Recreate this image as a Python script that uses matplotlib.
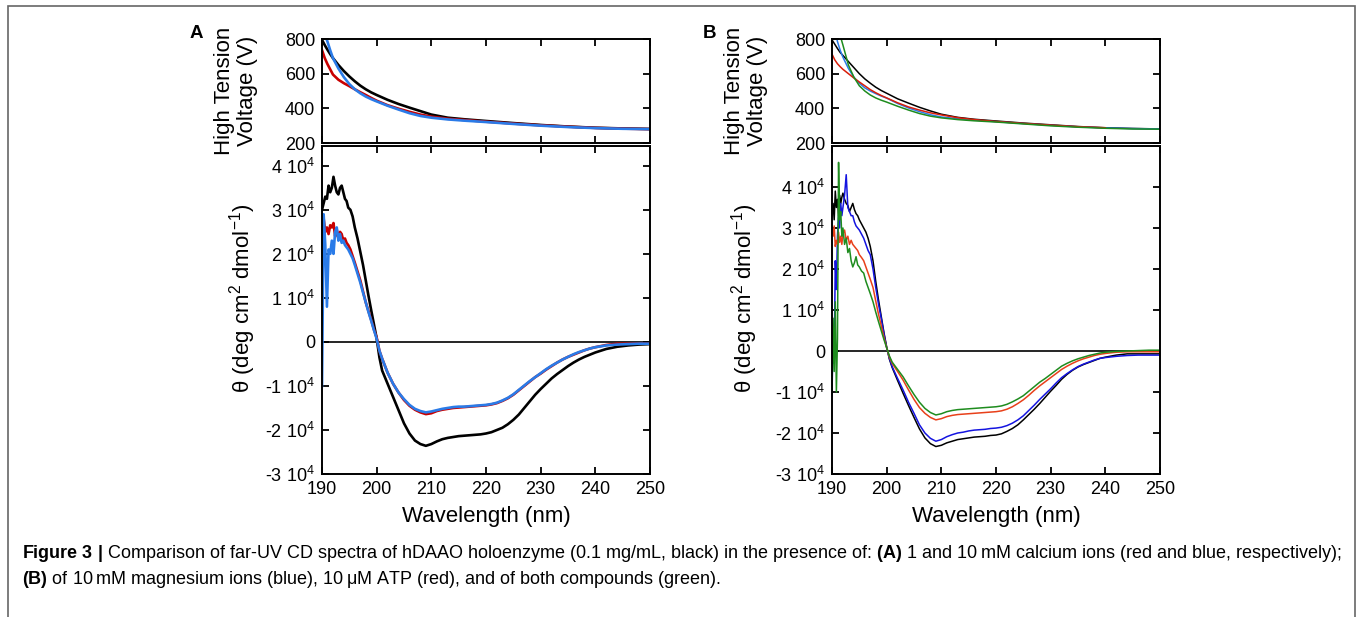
import numpy as np
import matplotlib
matplotlib.use("Agg")
import matplotlib.pyplot as plt
from matplotlib.patches import Rectangle

plt.rcParams['font.family'] = ['Liberation Sans', 'DejaVu Sans']
plt.rcParams['mathtext.fontset'] = 'custom'
plt.rcParams['mathtext.rm'] = 'Liberation Sans'
plt.rcParams['mathtext.it'] = 'Liberation Sans:italic'
plt.rcParams['mathtext.bf'] = 'Liberation Sans:bold'

# ---------------- data ----------------
# High tension voltage (V)
ht_wl = [190, 190.5, 191, 191.5, 192, 193, 194, 195, 196, 197, 198, 199, 200, 202, 204, 206,
         208, 210, 213, 216, 220, 225, 230, 235, 240, 245, 250]
htA_black = [795, 765, 738, 713, 690, 650, 615, 584, 556, 531, 510, 492, 477, 449, 425, 404,
             384, 364, 346, 337, 327, 315, 304, 295, 288, 284, 281]
htA_red = [736, 690, 655, 625, 595, 565, 545, 528, 510, 493, 477, 460, 444, 418, 398, 380,
           364, 352, 340, 333, 323, 312, 302, 294, 287, 283, 280]
htA_blue = [880, 830, 785, 735, 690, 630, 580, 540, 510, 487, 468, 453, 440, 415, 393, 372,
            356, 346, 336, 329, 321, 310, 300, 292, 286, 282, 280]
htB_black = [795, 770, 745, 722, 705, 670, 635, 600, 570, 545, 522, 503, 487, 455, 430, 406,
             385, 366, 348, 337, 327, 315, 305, 295, 288, 284, 281]
htB_red = [713, 680, 657, 640, 625, 600, 575, 552, 530, 508, 490, 474, 460, 432, 408, 390,
           374, 362, 346, 335, 324, 313, 303, 294, 288, np.nan, np.nan]
htB_blue = [940, 860, 785, 735, 695, 630, 580, 545, 518, 500, 485, 471, 459, 428, 402, 381,
            363, 350, 340, 332, 323, 312, 302, 293, 287, 283, 281]
htB_green = [1050, 960, 880, 820, 765, 650, 580, 530, 500, 477, 460, 447, 436, 412, 390, 370,
             355, 345, 335, 328, 321, 310, 299, 291, 285, 281, 280]

# CD ellipticity (units of 1e4 deg cm2 dmol-1)
tail_wl = [200.5, 201, 202, 203, 204, 205, 206, 207, 208, 209, 210, 211, 212, 213, 214, 215,
           216, 217, 218, 219, 220, 221, 222, 223, 224, 225, 226, 227, 228, 229, 230, 231,
           232, 233, 234, 235, 236, 237, 238, 239, 240, 242, 244, 246, 248, 250]
headA_wl = [190.0, 190.3, 190.6, 190.9, 191.2, 191.5, 191.8, 192.1, 192.4, 192.7, 193.0, 193.3,
            193.6, 193.9, 194.2, 194.5, 194.8, 195.2, 195.6, 196.0, 196.5, 197.0, 197.5, 198.0,
            198.5, 199.0, 199.5, 200.0]
headB_wl = [190.0, 190.2, 190.4, 190.6, 190.8, 191.0, 191.2, 191.4, 191.6, 191.8, 192.0, 192.3,
            192.6, 192.9, 193.2, 193.5, 193.8, 194.1, 194.4, 194.7, 195.0, 195.4, 195.8, 196.2,
            196.6, 197.0, 197.5, 198.0, 198.5, 199.0, 199.5, 200.0]

cdA_black = [3.0, 3.15, 3.3, 3.25, 3.55, 3.4, 3.5, 3.75, 3.55, 3.4, 3.35, 3.5, 3.55, 3.4, 3.25,
             3.2, 3.05, 3.0, 2.85, 2.6, 2.35, 2.05, 1.75, 1.4, 1.05, 0.72, 0.4, 0.08,
             -0.35, -0.65, -0.95, -1.25, -1.55, -1.85, -2.08, -2.24, -2.32, -2.36, -2.32, -2.26,
             -2.21, -2.18, -2.16, -2.14, -2.13, -2.12, -2.11, -2.1, -2.08, -2.05, -2.0, -1.95,
             -1.87, -1.77, -1.65, -1.5, -1.35, -1.2, -1.07, -0.95, -0.83, -0.73, -0.64, -0.55,
             -0.47, -0.4, -0.34, -0.29, -0.24, -0.16, -0.11, -0.08, -0.06, -0.05]
cdA_red = [2.5, 2.8, 2.5, 2.6, 2.45, 2.65, 2.6, 2.7, 2.4, 2.55, 2.35, 2.5, 2.45, 2.3, 2.35,
           2.25, 2.2, 2.1, 1.95, 1.8, 1.6, 1.4, 1.15, 0.9, 0.7, 0.5, 0.28, 0.1,
           -0.2, -0.38, -0.7, -0.95, -1.15, -1.32, -1.45, -1.54, -1.6, -1.64, -1.62, -1.57,
           -1.54, -1.52, -1.5, -1.49, -1.48, -1.47, -1.46, -1.45, -1.44, -1.42, -1.39, -1.34,
           -1.28, -1.2, -1.1, -1.0, -0.9, -0.8, -0.72, -0.63, -0.55, -0.47, -0.4, -0.34,
           -0.29, -0.24, -0.19, -0.15, -0.12, -0.07, -0.04, -0.04, -0.04, -0.04]
cdA_blue = [-1.0, 2.9, 2.2, 0.8, 2.1, 2.0, 2.3, 2.0, 2.5, 2.6, 2.3, 2.45, 2.25, 2.3, 2.2,
            2.15, 2.1, 2.0, 1.9, 1.75, 1.55, 1.35, 1.12, 0.9, 0.68, 0.48, 0.27, 0.07,
            -0.2, -0.38, -0.7, -0.95, -1.15, -1.3, -1.43, -1.52, -1.57, -1.6, -1.58, -1.55,
            -1.52, -1.5, -1.48, -1.47, -1.47, -1.46, -1.45, -1.44, -1.43, -1.41, -1.38, -1.33,
            -1.27, -1.19, -1.09, -0.99, -0.89, -0.8, -0.71, -0.62, -0.54, -0.47, -0.4, -0.34,
            -0.28, -0.23, -0.19, -0.15, -0.12, -0.08, -0.06, -0.05, -0.04, -0.04]

cdB_black = [3.3, 3.6, 3.2, 3.9, 3.5, 3.7, 3.3, 3.8, 3.6, 3.75, 3.85, 3.7, 3.6, 3.55, 3.4, 3.5,
             3.6, 3.45, 3.35, 3.3, 3.2, 3.1, 3.0, 2.9, 2.75, 2.55, 2.2, 1.7, 1.25, 0.85, 0.45, 0.1,
             -0.2, -0.4, -0.72, -1.03, -1.33, -1.62, -1.9, -2.12, -2.26, -2.33, -2.3, -2.24,
             -2.2, -2.16, -2.14, -2.12, -2.1, -2.09, -2.08, -2.06, -2.05, -2.02,
             -1.96, -1.89, -1.8, -1.68, -1.55, -1.42, -1.28, -1.13, -0.98, -0.84,
             -0.69, -0.57, -0.47, -0.39, -0.33, -0.28, -0.23, -0.18, -0.15,
             -0.1, -0.07, -0.07, -0.07, -0.07]
cdB_blue = [-1.1, 0.5, -0.3, 2.2, 1.5, 2.8, 3.3, 3.0, 3.6, 3.3, 3.5, 3.8, 4.3, 3.5, 3.4, 3.3,
            3.3, 3.15, 3.05, 3.0, 2.95, 2.85, 2.75, 2.6, 2.45, 2.35, 2.0, 1.55, 1.15, 0.8, 0.42, 0.08,
            -0.18, -0.38, -0.67, -0.95, -1.25, -1.52, -1.8, -2.0, -2.13, -2.2, -2.16, -2.09,
            -2.04, -2.0, -1.98, -1.95, -1.93, -1.92, -1.91, -1.89, -1.88, -1.86,
            -1.82, -1.76, -1.68, -1.58, -1.45, -1.32, -1.18, -1.05, -0.92, -0.78,
            -0.65, -0.55, -0.46, -0.38, -0.32, -0.27, -0.22, -0.18, -0.16,
            -0.13, -0.11, -0.1, -0.1, -0.1]
cdB_red = [3.0, 2.8, 3.05, 2.55, 2.7, 2.6, 2.9, 2.65, 2.8, 2.6, 2.85, 2.95, 2.7, 2.8, 2.6, 2.7,
           2.6, 2.55, 2.5, 2.45, 2.35, 2.28, 2.2, 2.05, 1.9, 1.75, 1.55, 1.22, 0.9, 0.62, 0.33, 0.08,
           -0.15, -0.3, -0.5, -0.71, -0.95, -1.18, -1.38, -1.52, -1.62, -1.68, -1.65, -1.6,
           -1.57, -1.55, -1.54, -1.53, -1.52, -1.51, -1.5, -1.49, -1.48, -1.46,
           -1.42, -1.36, -1.28, -1.19, -1.08, -0.96, -0.85, -0.75, -0.65, -0.55,
           -0.45, -0.37, -0.3, -0.24, -0.19, -0.15, -0.11, -0.08, -0.06,
           -0.03, -0.02, -0.02, -0.02, -0.02]
cdB_green = [-1.0, 0.8, -0.5, 1.2, -1.0, 0.3, 4.6, 3.2, 3.4, 2.8, 3.0, 2.6, 2.75, 2.4, 2.5, 2.2,
             2.05, 2.15, 2.3, 2.1, 2.05, 1.95, 1.9, 1.7, 1.55, 1.4, 1.2, 0.95, 0.72, 0.5, 0.28, 0.08,
             -0.12, -0.27, -0.45, -0.63, -0.85, -1.06, -1.25, -1.4, -1.5, -1.56, -1.53, -1.48,
             -1.45, -1.43, -1.42, -1.41, -1.4, -1.39, -1.38, -1.37, -1.36, -1.34,
             -1.3, -1.24, -1.17, -1.09, -0.98, -0.87, -0.76, -0.67, -0.57, -0.47,
             -0.37, -0.3, -0.24, -0.19, -0.15, -0.11, -0.08, -0.05, -0.03,
             -0.01, 0.0, 0.01, 0.02, 0.02]

x_ticks = [190, 200, 210, 220, 230, 240, 250]
ht_ticks = [200, 400, 600, 800]
cd_ticks = [-3, -2, -1, 0, 1, 2, 3, 4]
cd_labels = ["-3 10$^{4}$", "-2 10$^{4}$", "-1 10$^{4}$", "0", "1 10$^{4}$", "2 10$^{4}$",
             "3 10$^{4}$", "4 10$^{4}$"]

caption1 = (r"$\mathbf{Figure\ 3\ |}$ Comparison of far-UV CD spectra of hDAAO holoenzyme "
            r"(0.1 mg/mL, black) in the presence of: $\mathbf{(A)}$ 1 and 10" "\u2009"
            r"mM calcium ions (red and blue, respectively);")
caption2 = (r"$\mathbf{(B)}$ of 10" "\u2009" r"mM magnesium ions (blue), 10" "\u2009"
            "\u03bcM ATP (red), and of both compounds (green).")

# ---------------- figure ----------------
W, H = 1357, 617
fig = plt.figure(figsize=(W / 100, H / 100), dpi=100)


def box(l, t, r, b):
    return [l / W, 1 - b / H, (r - l) / W, (b - t) / H]


def style(ax, labels_x):
    ax.set_xlim(190, 250)
    ax.set_xticks(x_ticks)
    ax.tick_params(direction='in', length=5, width=1.3, top=True, right=True,
                   labelsize=13, pad=5, colors='black')
    if not labels_x:
        ax.tick_params(labelbottom=False)
    for s in ax.spines.values():
        s.set_linewidth(1.4)


panels = [
    dict(left=322, right=650, letter="A", lx=196, htx=236, thx=243, cdlim=(-3, 4.45),
         ht=[(htA_black, 'black'), (htA_red, '#c80000'), (htA_blue, '#2a7be8')],
         cd=[(headA_wl, cdA_black, 'black'), (headA_wl, cdA_red, '#c80000'),
             (headA_wl, cdA_blue, '#2a7be8')], lw=1.9),
    dict(left=832, right=1160, letter="B", lx=710, htx=746, thx=745, cdlim=(-3, 5.0),
         ht=[(htB_black, 'black'), (htB_blue, '#2a7be8'), (htB_red, '#d81e0a'),
             (htB_green, '#1e8c1e')],
         cd=[(headB_wl, cdB_black, 'black'), (headB_wl, cdB_blue, '#1414e0'),
             (headB_wl, cdB_red, '#e8401a'), (headB_wl, cdB_green, '#1e8c1e')], lw=1.1),
]

for p in panels:
    axt = fig.add_axes(box(p['left'], 39, p['right'], 143))
    axb = fig.add_axes(box(p['left'], 146, p['right'], 474))
    for vals, c in p['ht']:
        axt.plot(ht_wl, vals, color=c, lw=p['lw'])
    axt.set_ylim(200, 800)
    axt.set_yticks(ht_ticks)
    style(axt, False)

    axb.axhline(0, color='black', lw=1.2, zorder=1)
    for hw, vals, c in p['cd']:
        wl = list(hw) + tail_wl
        axb.plot(wl, np.array(vals) * 1e4, color=c, lw=p['lw'], zorder=2)
    axb.set_ylim(p['cdlim'][0] * 1e4, p['cdlim'][1] * 1e4)
    axb.set_yticks(np.array(cd_ticks) * 1e4)
    axb.set_yticklabels(cd_labels)
    style(axb, True)
    axb.set_xlabel("Wavelength (nm)", fontsize=16, labelpad=6)

    fig.text(p['htx'] / W, 1 - 91 / H, "High Tension\nVoltage (V)", rotation=90,
             ha='center', va='center', fontsize=16, multialignment='center', linespacing=1.15)
    fig.text(p['thx'] / W, 1 - 298 / H, "\u03b8 (deg cm$^{2}$ dmol$^{-1}$)", rotation=90,
             ha='center', va='center', fontsize=16)
    fig.text(p['lx'] / W, 1 - 33 / H, p['letter'], fontsize=13.5, fontweight='bold',
             ha='center', va='center')

fig.text(22 / W, 1 - 553 / H, caption1, fontsize=13.0, ha='left', va='center')
fig.text(22 / W, 1 - 579 / H, caption2, fontsize=13.0, ha='left', va='center')

fig.patches.append(Rectangle((8 / W, -0.05), (1355 - 8) / W, 1.05 - 6 / H,
                             transform=fig.transFigure, fill=False, edgecolor='#666666',
                             lw=1.2))

fig.savefig("out.png", dpi=100)
